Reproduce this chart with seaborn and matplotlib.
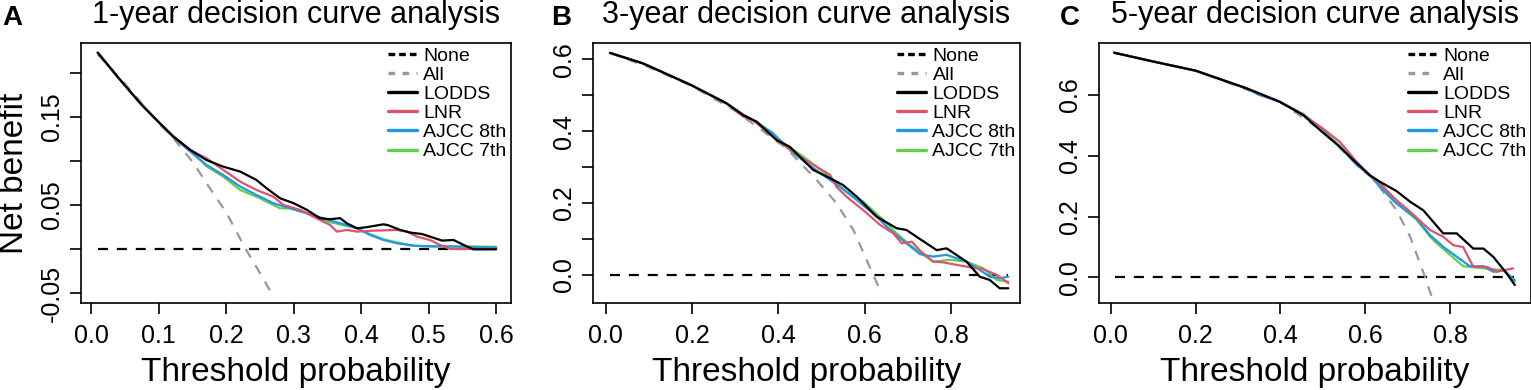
import matplotlib
matplotlib.use('Agg')
import matplotlib.pyplot as plt
from matplotlib.lines import Line2D
import seaborn as sns

# ---- data ----
# panel A, 1-year
A_LODDS_X = [0.01, 0.04, 0.073, 0.097, 0.122, 0.147, 0.171, 0.196, 0.221, 0.245, 0.26, 0.28, 0.30, 0.32, 0.339,
             0.354, 0.369, 0.379, 0.394, 0.408, 0.433, 0.44, 0.458, 0.473, 0.49, 0.502, 0.52, 0.537, 0.552, 0.566, 0.60]
A_LODDS_Y = [0.223, 0.195, 0.1655, 0.1466, 0.1276, 0.1125, 0.101, 0.0935, 0.0879, 0.0784, 0.069, 0.0576, 0.052, 0.0443,
             0.0349, 0.0338, 0.035, 0.029, 0.0235, 0.0247, 0.028, 0.027, 0.0216, 0.0186, 0.017, 0.014, 0.0095, 0.0102,
             0.0045, -0.0004, -0.0004]
A_LNR_X = [0.01, 0.04, 0.073, 0.097, 0.122, 0.147, 0.171, 0.196, 0.221, 0.245, 0.27, 0.285, 0.31, 0.334, 0.354, 0.364,
           0.379, 0.394, 0.418, 0.453, 0.468, 0.483, 0.502, 0.517, 0.532, 0.60]
A_LNR_Y = [0.223, 0.195, 0.1655, 0.1466, 0.128, 0.1125, 0.103, 0.0898, 0.0765, 0.067, 0.0594, 0.05, 0.0443, 0.0349,
           0.0273, 0.0197, 0.0216, 0.0197, 0.0208, 0.0216, 0.0197, 0.014, 0.0102, 0.0045, 0.0, 0.0]
A_AJCC8_X = [0.01, 0.04, 0.073, 0.097, 0.122, 0.147, 0.171, 0.196, 0.221, 0.245, 0.27, 0.295, 0.32, 0.344, 0.369, 0.394,
             0.413, 0.433, 0.453, 0.478, 0.502, 0.552, 0.60]
A_AJCC8_Y = [0.223, 0.195, 0.1655, 0.1466, 0.127, 0.1106, 0.0955, 0.084, 0.0708, 0.0614, 0.052, 0.0462, 0.0405, 0.0349,
             0.0292, 0.0235, 0.016, 0.0102, 0.0065, 0.0038, 0.003, 0.0027, 0.0015]
A_AJCC7_X = [0.01, 0.04, 0.073, 0.097, 0.122, 0.147, 0.171, 0.196, 0.221, 0.245, 0.28, 0.295, 0.32, 0.354, 0.394, 0.413,
             0.433, 0.453, 0.477, 0.502, 0.552, 0.60]
A_AJCC7_Y = [0.223, 0.195, 0.1655, 0.1466, 0.128, 0.112, 0.094, 0.082, 0.067, 0.0594, 0.0462, 0.0462, 0.0405, 0.0305,
             0.0235, 0.017, 0.011, 0.0075, 0.0035, 0.003, 0.0027, 0.0025]
A_ALL_X = [0.01, 0.05, 0.10, 0.122, 0.152, 0.171, 0.201, 0.229, 0.25, 0.271]
A_ALL_Y = [0.221, 0.188, 0.143, 0.1258, 0.0974, 0.0747, 0.0406, 0.0, -0.027, -0.0553]
A_NONE_X = [0.01, 0.60]

# panel B, 3-year
B_LODDS_X = [0.01, 0.087, 0.198, 0.28, 0.319, 0.35, 0.396, 0.427, 0.481, 0.52, 0.55, 0.582, 0.628, 0.674, 0.697,
             0.728, 0.767, 0.79, 0.836, 0.867, 0.89, 0.913, 0.933]
B_LODDS_Y = [0.6175, 0.588, 0.528, 0.477, 0.444, 0.426, 0.375, 0.356, 0.292, 0.269, 0.25, 0.2175, 0.162, 0.13, 0.125,
             0.1, 0.069, 0.074, 0.037, -0.005, -0.014, -0.037, -0.037]
B_LNR_X = [0.01, 0.087, 0.198, 0.28, 0.319, 0.342, 0.388, 0.45, 0.52, 0.535, 0.558, 0.597, 0.636, 0.666, 0.686, 0.709,
           0.728, 0.759, 0.782, 0.836, 0.875, 0.906, 0.933]
B_LNR_Y = [0.6175, 0.588, 0.528, 0.477, 0.44, 0.43, 0.384, 0.329, 0.278, 0.245, 0.2175, 0.18, 0.139, 0.116, 0.088,
           0.0925, 0.068, 0.037, 0.035, 0.023, 0.016, 0.0, -0.023]
B_AJCC8_X = [0.01, 0.087, 0.198, 0.28, 0.319, 0.35, 0.388, 0.427, 0.466, 0.52, 0.543, 0.582, 0.628, 0.659, 0.697,
             0.728, 0.759, 0.79, 0.836, 0.867, 0.89, 0.913, 0.933]
B_AJCC8_Y = [0.6175, 0.588, 0.528, 0.478, 0.446, 0.425, 0.394, 0.347, 0.31, 0.264, 0.245, 0.208, 0.162, 0.125, 0.088,
             0.058, 0.051, 0.056, 0.037, 0.014, -0.005, -0.009, -0.005]
B_AJCC7_X = [0.01, 0.087, 0.198, 0.28, 0.319, 0.35, 0.396, 0.458, 0.504, 0.558, 0.597, 0.643, 0.674, 0.705, 0.728,
             0.759, 0.798, 0.836, 0.875, 0.906, 0.933]
B_AJCC7_Y = [0.6175, 0.588, 0.528, 0.477, 0.445, 0.425, 0.38, 0.329, 0.287, 0.231, 0.204, 0.153, 0.116, 0.083, 0.0625,
             0.037, 0.042, 0.037, 0.0186, -0.014, -0.0185]
B_ALL_X = [0.01, 0.1, 0.2, 0.3, 0.419, 0.489, 0.535, 0.574, 0.62, 0.639]
B_ALL_Y = [0.617, 0.578, 0.525, 0.457, 0.352, 0.264, 0.199, 0.125, 0.0, -0.051]
B_NONE_X = [0.01, 0.933]

# panel C, 5-year
C_LODDS_X = [0.008, 0.1, 0.2, 0.32, 0.398, 0.454, 0.493, 0.54, 0.572, 0.611, 0.635, 0.674, 0.706, 0.737, 0.784,
             0.816, 0.855, 0.879, 0.902, 0.934, 0.953]
C_LODDS_Y = [0.739, 0.71, 0.68, 0.622, 0.578, 0.534, 0.485, 0.43, 0.386, 0.336, 0.3145, 0.284, 0.249, 0.221, 0.145,
             0.145, 0.095, 0.095, 0.068, 0.013, -0.025]
C_LNR_X = [0.008, 0.1, 0.2, 0.32, 0.398, 0.454, 0.5, 0.54, 0.58, 0.611, 0.635, 0.658, 0.674, 0.706, 0.753, 0.784,
           0.808, 0.831, 0.855, 0.887, 0.91, 0.949]
C_LNR_Y = [0.739, 0.71, 0.68, 0.622, 0.578, 0.534, 0.49, 0.446, 0.38, 0.336, 0.31, 0.276, 0.254, 0.216, 0.156, 0.134,
           0.106, 0.1, 0.035, 0.035, 0.0185, 0.03]
C_AJCC8_X = [0.008, 0.1, 0.2, 0.32, 0.35, 0.398, 0.454, 0.5, 0.54, 0.58, 0.611, 0.635, 0.658, 0.674, 0.721, 0.753,
             0.784, 0.816, 0.847, 0.879, 0.902, 0.926, 0.953]
C_AJCC8_Y = [0.739, 0.71, 0.68, 0.622, 0.6, 0.578, 0.534, 0.48, 0.43, 0.37, 0.336, 0.298, 0.265, 0.243, 0.194, 0.139,
             0.101, 0.068, 0.037, 0.037, 0.0185, 0.024, -0.009]
C_AJCC7_X = [0.008, 0.1, 0.2, 0.32, 0.398, 0.454, 0.5, 0.54, 0.58, 0.611, 0.635, 0.674, 0.721, 0.753, 0.769, 0.831,
             0.879, 0.926, 0.953]
C_AJCC7_Y = [0.739, 0.71, 0.68, 0.622, 0.578, 0.538, 0.485, 0.432, 0.372, 0.336, 0.302, 0.245, 0.19, 0.134, 0.112,
             0.037, 0.03, 0.024, -0.014]
C_ALL_X = [0.01, 0.2, 0.4, 0.5, 0.6, 0.619, 0.674, 0.706, 0.741, 0.761]
C_ALL_Y = [0.738, 0.68, 0.577, 0.48, 0.345, 0.326, 0.221, 0.134, 0.002, -0.08]
C_NONE_X = [0.01, 0.95]

LABELS = ['None', 'All', 'LODDS', 'LNR', 'AJCC 8th', 'AJCC 7th']
COLORS = ['black', '#999999', 'black', '#DF536B', '#2297E6', '#61D04F']
TITLES = ['1-year decision curve analysis', '3-year decision curve analysis', '5-year decision curve analysis']
PANEL_TAGS = ['A', 'B', 'C']

A_XTICKS = [0.0, 0.1, 0.2, 0.3, 0.4, 0.5, 0.6]
BC_XTICKS = [0.0, 0.2, 0.4, 0.6, 0.8]
A_YTICKS = [-0.05, 0.0, 0.05, 0.10, 0.15, 0.20]
A_YLABELS = ['-0.05', '', '0.05', '', '0.15', '']
B_YTICKS = [0.0, 0.1, 0.2, 0.3, 0.4, 0.5, 0.6]
B_YLABELS = ['0.0', '', '0.2', '', '0.4', '', '0.6']
C_YTICKS = [0.0, 0.2, 0.4, 0.6]
C_YLABELS = ['0.0', '0.2', '0.4', '0.6']

sns.set_style('ticks')
plt.rcParams['font.family'] = ['Liberation Sans', 'DejaVu Sans']
plt.rcParams['axes.linewidth'] = 1.2
plt.rcParams['text.color'] = 'black'
plt.rcParams['axes.labelcolor'] = 'black'
plt.rcParams['xtick.color'] = 'black'
plt.rcParams['ytick.color'] = 'black'

W, H = 1531, 390
fig = plt.figure(figsize=(W / 100, H / 100), dpi=100)

# axes boxes in pixels: left, right, top, bottom
boxes = [(81, 511), (592.7, 1020), (1099, 1530.5)]
top_px, bot_px = 43, 303
xlims = [(-0.0148, 0.622), (-0.030, 0.96), (-0.028, 0.990)]
ylims = [(-0.0614, 0.234), (-0.078, 0.645), (-0.084, 0.771)]

panels = [
    (A_NONE_X, A_ALL_X, A_ALL_Y, A_LODDS_X, A_LODDS_Y, A_LNR_X, A_LNR_Y, A_AJCC8_X, A_AJCC8_Y, A_AJCC7_X, A_AJCC7_Y),
    (B_NONE_X, B_ALL_X, B_ALL_Y, B_LODDS_X, B_LODDS_Y, B_LNR_X, B_LNR_Y, B_AJCC8_X, B_AJCC8_Y, B_AJCC7_X, B_AJCC7_Y),
    (C_NONE_X, C_ALL_X, C_ALL_Y, C_LODDS_X, C_LODDS_Y, C_LNR_X, C_LNR_Y, C_AJCC8_X, C_AJCC8_Y, C_AJCC7_X, C_AJCC7_Y),
]
xticks = [A_XTICKS, BC_XTICKS, BC_XTICKS]
yticks = [(A_YTICKS, A_YLABELS), (B_YTICKS, B_YLABELS), (C_YTICKS, C_YLABELS)]
tag_x = [12, 561, 1069.5]

dash = (0, (4.5, 4))
lw = 1.6

for i, (none_x, all_x, all_y, lo_x, lo_y, lnr_x, lnr_y, a8_x, a8_y, a7_x, a7_y) in enumerate(panels):
    left, right = boxes[i]
    ax = fig.add_axes([left / W, 1 - bot_px / H, (right - left) / W, (bot_px - top_px) / H])

    sns.lineplot(x=none_x, y=[0, 0], ax=ax, color=COLORS[0], linewidth=lw, linestyle=dash, estimator=None)
    sns.lineplot(x=all_x, y=all_y, ax=ax, color=COLORS[1], linewidth=lw, linestyle=dash, estimator=None, sort=False)
    sns.lineplot(x=a7_x, y=a7_y, ax=ax, color=COLORS[5], linewidth=lw, estimator=None, sort=False)
    sns.lineplot(x=a8_x, y=a8_y, ax=ax, color=COLORS[4], linewidth=lw, estimator=None, sort=False)
    sns.lineplot(x=lnr_x, y=lnr_y, ax=ax, color=COLORS[3], linewidth=lw, estimator=None, sort=False)
    sns.lineplot(x=lo_x, y=lo_y, ax=ax, color=COLORS[2], linewidth=lw, estimator=None, sort=False)

    ax.set_xlim(*xlims[i])
    ax.set_ylim(*ylims[i])
    ax.set_xticks(xticks[i])
    ax.set_xticklabels([f'{t:.1f}' for t in xticks[i]])
    yt, yl = yticks[i]
    ax.set_yticks(yt)
    ax.set_yticklabels(yl, rotation=90, va='center')
    ax.tick_params(axis='both', direction='out', length=8, width=1.2, labelsize=18, colors='black')
    ax.tick_params(axis='x', pad=7)
    ax.tick_params(axis='y', pad=4)
    for sp in ax.spines.values():
        sp.set_visible(True)
        sp.set_color('black')
    ax.set_xlabel('')
    ax.set_ylabel('')

    handles = [
        Line2D([], [], color=COLORS[0], lw=2.4, linestyle=(0, (2, 1.2))),
        Line2D([], [], color=COLORS[1], lw=2.4, linestyle=(0, (2, 2.2))),
        Line2D([], [], color=COLORS[2], lw=2.4),
        Line2D([], [], color=COLORS[3], lw=2.4),
        Line2D([], [], color=COLORS[4], lw=2.4),
        Line2D([], [], color=COLORS[5], lw=2.4),
    ]
    ax.legend(handles, LABELS, loc='upper right', bbox_to_anchor=(0.99, 0.985), frameon=False,
              fontsize=14, handlelength=1.45, handletextpad=0.35, labelspacing=0.08,
              borderpad=0, borderaxespad=0)

    cx = (left + right) / 2 / W
    fig.text(cx, 1 - 15 / H, TITLES[i], ha='center', va='center', fontsize=22)
    fig.text(cx, 1 - 372 / H, 'Threshold probability', ha='center', va='center', fontsize=24)
    fig.text(tag_x[i] / W, 1 - 18 / H, PANEL_TAGS[i], ha='center', va='center', fontsize=20, fontweight='bold')

fig.text(15 / W, 1 - 173 / H, 'Net benefit', ha='center', va='center', rotation=90, fontsize=24)

fig.savefig('out.png', dpi=100)
